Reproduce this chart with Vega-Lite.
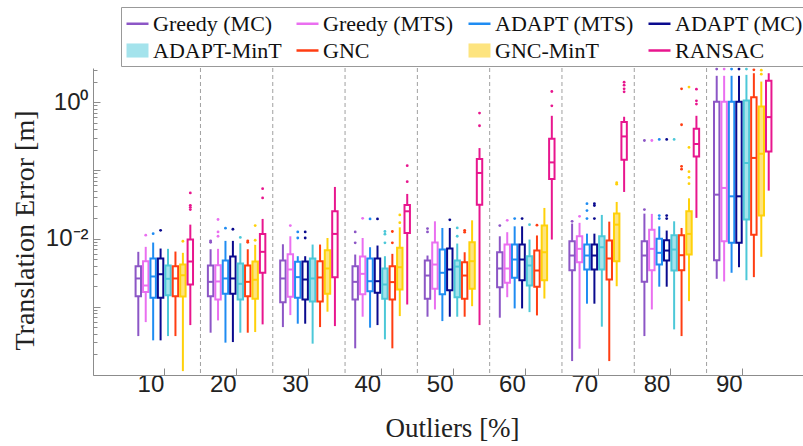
{
  "$schema": "https://vega.github.io/schema/vega-lite/v6.json",
  "width": 710,
  "height": 307,
  "autosize": {"type": "none"},
  "padding": {"left": 93, "top": 68, "right": 0, "bottom": 71},
  "background": "white",
  "config": {
    "view": {"stroke": null},
    "axis": {"domainColor": "#8c8c8c", "tickColor": "#8c8c8c", "grid": false, "labelColor": "#222222", "titleColor": "#222222", "titleFontWeight": "normal", "labelOverlap": false}
  },
  "datasets": {
    "boxes": [
      {"o":10,"m":"Greedy (MC)","lo":0.000372,"q1":0.00143,"med":0.0026,"q3":0.00393,"hi":0.00639},
      {"o":10,"m":"Greedy (MTS)","lo":0.000596,"q1":0.00164,"med":0.00205,"q3":0.00466,"hi":0.00756},
      {"o":10,"m":"ADAPT (MTS)","lo":0.000322,"q1":0.00136,"med":0.00278,"q3":0.0051,"hi":0.00874},
      {"o":10,"m":"ADAPT (MC)","lo":0.000322,"q1":0.00136,"med":0.003,"q3":0.0051,"hi":0.00714},
      {"o":10,"m":"ADAPT-MinT","lo":0.000372,"q1":0.00148,"med":0.00257,"q3":0.00403,"hi":0.00707},
      {"o":10,"m":"GNC","lo":0.000372,"q1":0.00143,"med":0.0026,"q3":0.00393,"hi":0.00645},
      {"o":10,"m":"GNC-MinT","lo":0.000114,"q1":0.00142,"med":0.0029,"q3":0.00416,"hi":0.00618},
      {"o":10,"m":"RANSAC","lo":0.000539,"q1":0.00212,"med":0.00461,"q3":0.00967,"hi":0.016},
      {"o":20,"m":"Greedy (MC)","lo":0.000417,"q1":0.00143,"med":0.00232,"q3":0.00403,"hi":0.00697},
      {"o":20,"m":"Greedy (MTS)","lo":0.000631,"q1":0.00128,"med":0.00235,"q3":0.00407,"hi":0.00707},
      {"o":20,"m":"ADAPT (MTS)","lo":0.000298,"q1":0.00155,"med":0.0026,"q3":0.00476,"hi":0.00925},
      {"o":20,"m":"ADAPT (MC)","lo":0.000304,"q1":0.00155,"med":0.0026,"q3":0.00545,"hi":0.00925},
      {"o":20,"m":"ADAPT-MinT","lo":0.000417,"q1":0.00128,"med":0.00217,"q3":0.00431,"hi":0.00853},
      {"o":20,"m":"GNC","lo":0.000417,"q1":0.00143,"med":0.00232,"q3":0.00403,"hi":0.00697},
      {"o":20,"m":"GNC-MinT","lo":0.000426,"q1":0.00131,"med":0.00249,"q3":0.00461,"hi":0.00809},
      {"o":20,"m":"RANSAC","lo":0.000552,"q1":0.00315,"med":0.00639,"q3":0.0117,"hi":0.0194},
      {"o":30,"m":"Greedy (MC)","lo":0.000504,"q1":0.00117,"med":0.0026,"q3":0.00476,"hi":0.00825},
      {"o":30,"m":"Greedy (MTS)","lo":0.000755,"q1":0.0014,"med":0.00352,"q3":0.00589,"hi":0.0108},
      {"o":30,"m":"ADAPT (MTS)","lo":0.000565,"q1":0.00136,"med":0.00272,"q3":0.00456,"hi":0.00551},
      {"o":30,"m":"ADAPT (MC)","lo":0.000565,"q1":0.00128,"med":0.00251,"q3":0.00461,"hi":0.00551},
      {"o":30,"m":"ADAPT-MinT","lo":0.000288,"q1":0.00119,"med":0.0026,"q3":0.0051,"hi":0.00817},
      {"o":30,"m":"GNC","lo":0.000504,"q1":0.00119,"med":0.00269,"q3":0.00466,"hi":0.00817},
      {"o":30,"m":"GNC-MinT","lo":0.000847,"q1":0.00155,"med":0.00364,"q3":0.00674,"hi":0.0102},
      {"o":30,"m":"RANSAC","lo":0.000521,"q1":0.00272,"med":0.0117,"q3":0.0251,"hi":0.0571},
      {"o":40,"m":"Greedy (MC)","lo":0.000246,"q1":0.00128,"med":0.00232,"q3":0.00393,"hi":0.00583},
      {"o":40,"m":"Greedy (MTS)","lo":0.000715,"q1":0.00152,"med":0.00304,"q3":0.00545,"hi":0.0102},
      {"o":40,"m":"ADAPT (MTS)","lo":0.000494,"q1":0.00169,"med":0.00237,"q3":0.0051,"hi":0.00746},
      {"o":40,"m":"ADAPT (MC)","lo":0.000539,"q1":0.00161,"med":0.00237,"q3":0.0051,"hi":0.0079},
      {"o":40,"m":"ADAPT-MinT","lo":0.000333,"q1":0.00131,"med":0.00212,"q3":0.00364,"hi":0.00551},
      {"o":40,"m":"GNC","lo":0.000246,"q1":0.00128,"med":0.0023,"q3":0.00393,"hi":0.00597},
      {"o":40,"m":"GNC-MinT","lo":0.00073,"q1":0.00179,"med":0.0038,"q3":0.00731,"hi":0.0146},
      {"o":40,"m":"RANSAC","lo":0.00108,"q1":0.0121,"med":0.0251,"q3":0.0311,"hi":0.0451},
      {"o":50,"m":"Greedy (MC)","lo":0.000715,"q1":0.00131,"med":0.00287,"q3":0.00476,"hi":0.00564},
      {"o":50,"m":"Greedy (MTS)","lo":0.000914,"q1":0.00184,"med":0.00416,"q3":0.00874,"hi":0.0179},
      {"o":50,"m":"ADAPT (MTS)","lo":0.000617,"q1":0.00152,"med":0.00315,"q3":0.0069,"hi":0.0143},
      {"o":50,"m":"ADAPT (MC)","lo":0.000715,"q1":0.00175,"med":0.00352,"q3":0.00714,"hi":0.0143},
      {"o":50,"m":"ADAPT-MinT","lo":0.000715,"q1":0.00138,"med":0.00388,"q3":0.00476,"hi":0.00845},
      {"o":50,"m":"GNC","lo":0.000715,"q1":0.00131,"med":0.00287,"q3":0.0045,"hi":0.0063},
      {"o":50,"m":"GNC-MinT","lo":0.00102,"q1":0.00184,"med":0.00466,"q3":0.00883,"hi":0.0185},
      {"o":50,"m":"RANSAC","lo":0.000539,"q1":0.0314,"med":0.0915,"q3":0.1466,"hi":0.212},
      {"o":60,"m":"Greedy (MC)","lo":0.000692,"q1":0.00194,"med":0.00364,"q3":0.0063,"hi":0.0108},
      {"o":60,"m":"Greedy (MTS)","lo":0.00138,"q1":0.00225,"med":0.00364,"q3":0.00817,"hi":0.0124},
      {"o":60,"m":"ADAPT (MTS)","lo":0.000946,"q1":0.00266,"med":0.00493,"q3":0.00817,"hi":0.0151},
      {"o":60,"m":"ADAPT (MC)","lo":0.000946,"q1":0.00245,"med":0.00493,"q3":0.00817,"hi":0.0151},
      {"o":60,"m":"ADAPT-MinT","lo":0.000835,"q1":0.00205,"med":0.00403,"q3":0.00551,"hi":0.00967},
      {"o":60,"m":"GNC","lo":0.000747,"q1":0.00197,"med":0.0034,"q3":0.00667,"hi":0.0111},
      {"o":60,"m":"GNC-MinT","lo":0.00132,"q1":0.00245,"med":0.0063,"q3":0.0155,"hi":0.0281},
      {"o":60,"m":"RANSAC","lo":0.00967,"q1":0.0747,"med":0.1307,"q3":0.29,"hi":0.63},
      {"o":70,"m":"Greedy (MC)","lo":0.00016,"q1":0.00344,"med":0.00564,"q3":0.00913,"hi":0.0166},
      {"o":70,"m":"Greedy (MTS)","lo":0.000243,"q1":0.0045,"med":0.00707,"q3":0.0108,"hi":0.017},
      {"o":70,"m":"ADAPT (MTS)","lo":0.00111,"q1":0.00352,"med":0.00564,"q3":0.00817,"hi":0.0118},
      {"o":70,"m":"ADAPT (MC)","lo":0.00111,"q1":0.00352,"med":0.00564,"q3":0.00817,"hi":0.0118},
      {"o":70,"m":"ADAPT-MinT","lo":0.000511,"q1":0.00352,"med":0.00746,"q3":0.0108,"hi":0.0222},
      {"o":70,"m":"GNC","lo":0.00016,"q1":0.00251,"med":0.0051,"q3":0.00935,"hi":0.0177},
      {"o":70,"m":"GNC-MinT","lo":0.002,"q1":0.00466,"med":0.016,"q3":0.0232,"hi":0.0344},
      {"o":70,"m":"RANSAC","lo":0.0482,"q1":0.1432,"med":0.314,"q3":0.51,"hi":0.61},
      {"o":80,"m":"Greedy (MC)","lo":0.000372,"q1":0.00232,"med":0.00564,"q3":0.00913,"hi":0.0232},
      {"o":80,"m":"Greedy (MTS)","lo":0.000914,"q1":0.00344,"med":0.00707,"q3":0.0135,"hi":0.023},
      {"o":80,"m":"ADAPT (MTS)","lo":0.00197,"q1":0.00416,"med":0.00618,"q3":0.0099,"hi":0.0151},
      {"o":80,"m":"ADAPT (MC)","lo":0.00197,"q1":0.00476,"med":0.00667,"q3":0.00945,"hi":0.0131},
      {"o":80,"m":"ADAPT-MinT","lo":0.000466,"q1":0.0034,"med":0.0069,"q3":0.0112,"hi":0.0179},
      {"o":80,"m":"GNC","lo":0.000372,"q1":0.00344,"med":0.0057,"q3":0.0112,"hi":0.0143},
      {"o":80,"m":"GNC-MinT","lo":0.00121,"q1":0.00583,"med":0.0117,"q3":0.0251,"hi":0.0389},
      {"o":80,"m":"RANSAC","lo":0.0201,"q1":0.16,"med":0.243,"q3":0.407,"hi":0.63},
      {"o":90,"m":"Greedy (MC)","lo":0.00257,"q1":0.00481,"med":0.044,"q3":1.01,"hi":2.43},
      {"o":90,"m":"Greedy (MTS)","lo":0.00235,"q1":0.00913,"med":0.0552,"q3":1.01,"hi":2.43},
      {"o":90,"m":"ADAPT (MTS)","lo":0.00315,"q1":0.00865,"med":0.0416,"q3":1.01,"hi":2.43},
      {"o":90,"m":"ADAPT (MC)","lo":0.0038,"q1":0.00865,"med":0.0416,"q3":1.01,"hi":2.43},
      {"o":90,"m":"ADAPT-MinT","lo":0.00245,"q1":0.019,"med":0.128,"q3":1.055,"hi":2.51},
      {"o":90,"m":"GNC","lo":0.00272,"q1":0.0114,"med":0.152,"q3":1.18,"hi":2.65},
      {"o":90,"m":"GNC-MinT","lo":0.0054,"q1":0.0217,"med":0.175,"q3":0.862,"hi":2.0},
      {"o":90,"m":"RANSAC","lo":0.0504,"q1":0.189,"med":0.603,"q3":2.05,"hi":2.65}
    ],
    "outliers": [
      {"o":10,"m":"Greedy (MTS)","v":0.0112},
      {"o":10,"m":"ADAPT (MTS)","v":0.0118},
      {"o":10,"m":"ADAPT (MC)","v":0.0132},
      {"o":10,"m":"GNC-MinT","v":0.00913},
      {"o":10,"m":"RANSAC","v":0.0466},
      {"o":10,"m":"RANSAC","v":0.0307},
      {"o":10,"m":"RANSAC","v":0.0287},
      {"o":10,"m":"RANSAC","v":0.0266},
      {"o":20,"m":"Greedy (MC)","v":0.00925},
      {"o":20,"m":"Greedy (MC)","v":0.00883},
      {"o":20,"m":"Greedy (MTS)","v":0.019},
      {"o":20,"m":"Greedy (MTS)","v":0.0125},
      {"o":20,"m":"Greedy (MTS)","v":0.0108},
      {"o":20,"m":"ADAPT (MTS)","v":0.0142},
      {"o":20,"m":"ADAPT (MC)","v":0.0137},
      {"o":20,"m":"ADAPT-MinT","v":0.0104},
      {"o":20,"m":"GNC","v":0.00925},
      {"o":20,"m":"GNC","v":0.00883},
      {"o":20,"m":"GNC-MinT","v":0.0155},
      {"o":20,"m":"GNC-MinT","v":0.00945},
      {"o":20,"m":"RANSAC","v":0.0539},
      {"o":20,"m":"RANSAC","v":0.0394},
      {"o":30,"m":"Greedy (MTS)","v":0.0155},
      {"o":30,"m":"ADAPT (MTS)","v":0.0125},
      {"o":30,"m":"ADAPT (MTS)","v":0.0102},
      {"o":30,"m":"ADAPT (MC)","v":0.0125},
      {"o":30,"m":"ADAPT (MC)","v":0.0102},
      {"o":40,"m":"Greedy (MC)","v":0.0125},
      {"o":40,"m":"Greedy (MC)","v":0.00865},
      {"o":40,"m":"Greedy (MTS)","v":0.0198},
      {"o":40,"m":"ADAPT (MTS)","v":0.0194},
      {"o":40,"m":"ADAPT (MC)","v":0.0194},
      {"o":40,"m":"ADAPT-MinT","v":0.0127},
      {"o":40,"m":"ADAPT-MinT","v":0.0116},
      {"o":40,"m":"ADAPT-MinT","v":0.00865},
      {"o":40,"m":"GNC","v":0.0127},
      {"o":40,"m":"GNC","v":0.00865},
      {"o":40,"m":"GNC-MinT","v":0.0222},
      {"o":40,"m":"GNC-MinT","v":0.0171},
      {"o":40,"m":"RANSAC","v":0.117},
      {"o":40,"m":"RANSAC","v":0.0682},
      {"o":50,"m":"Greedy (MC)","v":0.014},
      {"o":50,"m":"Greedy (MC)","v":0.0125},
      {"o":50,"m":"ADAPT (MC)","v":0.0188},
      {"o":50,"m":"ADAPT-MinT","v":0.0143},
      {"o":50,"m":"ADAPT-MinT","v":0.0108},
      {"o":50,"m":"GNC","v":0.0132},
      {"o":50,"m":"GNC","v":0.0124},
      {"o":50,"m":"RANSAC","v":0.69},
      {"o":50,"m":"RANSAC","v":0.45},
      {"o":60,"m":"Greedy (MC)","v":0.0155},
      {"o":60,"m":"Greedy (MTS)","v":0.0185},
      {"o":60,"m":"ADAPT (MTS)","v":0.0196},
      {"o":60,"m":"ADAPT (MC)","v":0.0196},
      {"o":60,"m":"ADAPT-MinT","v":0.016},
      {"o":60,"m":"GNC","v":0.0157},
      {"o":60,"m":"RANSAC","v":1.43},
      {"o":60,"m":"RANSAC","v":0.883},
      {"o":70,"m":"Greedy (MC)","v":0.0179},
      {"o":70,"m":"Greedy (MTS)","v":0.0212},
      {"o":70,"m":"ADAPT (MTS)","v":0.0325},
      {"o":70,"m":"ADAPT (MTS)","v":0.0257},
      {"o":70,"m":"ADAPT (MTS)","v":0.0196},
      {"o":70,"m":"ADAPT (MC)","v":0.0325},
      {"o":70,"m":"ADAPT (MC)","v":0.0304},
      {"o":70,"m":"ADAPT (MC)","v":0.0196},
      {"o":70,"m":"GNC-MinT","v":0.0627},
      {"o":70,"m":"GNC-MinT","v":0.066},
      {"o":70,"m":"RANSAC","v":1.96},
      {"o":70,"m":"RANSAC","v":1.77},
      {"o":70,"m":"RANSAC","v":1.565},
      {"o":70,"m":"RANSAC","v":1.415},
      {"o":80,"m":"Greedy (MC)","v":0.274},
      {"o":80,"m":"Greedy (MC)","v":0.0266},
      {"o":80,"m":"Greedy (MTS)","v":0.274},
      {"o":80,"m":"ADAPT (MTS)","v":0.284},
      {"o":80,"m":"ADAPT (MTS)","v":0.0217},
      {"o":80,"m":"ADAPT (MTS)","v":0.0196},
      {"o":80,"m":"ADAPT (MC)","v":0.284},
      {"o":80,"m":"ADAPT (MC)","v":0.0217},
      {"o":80,"m":"ADAPT (MC)","v":0.0196},
      {"o":80,"m":"ADAPT-MinT","v":0.284},
      {"o":80,"m":"GNC","v":1.565},
      {"o":80,"m":"GNC","v":0.466},
      {"o":80,"m":"GNC","v":0.1143},
      {"o":80,"m":"GNC","v":0.104},
      {"o":80,"m":"GNC-MinT","v":1.66},
      {"o":80,"m":"GNC-MinT","v":0.217},
      {"o":80,"m":"GNC-MinT","v":0.0955},
      {"o":80,"m":"GNC-MinT","v":0.0788},
      {"o":80,"m":"GNC-MinT","v":0.0638},
      {"o":80,"m":"RANSAC","v":1.55},
      {"o":80,"m":"RANSAC","v":1.045},
      {"o":80,"m":"RANSAC","v":0.935},
      {"o":90,"m":"Greedy (MC)","v":3.05},
      {"o":90,"m":"Greedy (MTS)","v":3.05},
      {"o":90,"m":"ADAPT (MTS)","v":3.05},
      {"o":90,"m":"ADAPT (MC)","v":3.05},
      {"o":90,"m":"ADAPT-MinT","v":3.05},
      {"o":90,"m":"GNC","v":2.97},
      {"o":90,"m":"GNC-MinT","v":2.94},
      {"o":90,"m":"GNC-MinT","v":2.57}
    ],
    "seps": [{"o":20},{"o":30},{"o":40},{"o":50},{"o":60},{"o":70},{"o":80},{"o":90}]
  },
  "layer": [
    {
      "data": {"name": "seps"},
      "mark": {"type": "rule", "strokeDash": [4, 3], "color": "#a0a0a0", "strokeWidth": 1},
      "encoding": {
        "x": {"field": "o", "type": "ordinal", "bandPosition": 0,
              "scale": {"type": "band", "domain": [10,20,30,40,50,60,70,80,90], "paddingInner": 0, "paddingOuter": 0.41, "align": 0.593}}
      }
    },
    {
      "data": {"name": "boxes"},
      "mark": {"type": "rule", "strokeWidth": 2},
      "encoding": {
        "x": {"field": "o", "type": "ordinal",
              "scale": {"type": "band", "domain": [10,20,30,40,50,60,70,80,90], "paddingInner": 0, "paddingOuter": 0.41, "align": 0.593},
              "axis": {"title": "Outliers [%]", "titleFont": "Liberation Serif", "titleFontSize": 27, "titleX": 359, "titleY": 61, "titleBaseline": "alphabetic", "titleAlign": "center",
                       "labelAngle": 0, "labelFont": "Liberation Sans", "labelFontSize": 24, "labelPadding": 16, "tickSize": -7, "tickWidth": 1}},
        "xOffset": {"field": "m", "type": "nominal",
              "scale": {"domain": ["Greedy (MC)","Greedy (MTS)","ADAPT (MTS)","ADAPT (MC)","ADAPT-MinT","GNC","GNC-MinT","RANSAC"], "paddingInner": 0.27, "paddingOuter": 1.085}},
        "y": {"field": "lo", "type": "quantitative",
              "scale": {"type": "log", "domain": [0.0001, 3.1623], "nice": false},
              "axis": {"title": "Translation Error [m]", "titleFont": "Liberation Serif", "titleFontSize": 28, "titleX": -68, "titleY": 162, "titleAngle": -90, "titleBaseline": "middle", "titleAlign": "center",
                       "labelFont": "Liberation Sans", "labelFontSize": 24, "labelPadding": 12,
                       "values": [0.0001,0.0002,0.0003,0.0004,0.0005,0.0006,0.0007,0.0008,0.0009,0.001,0.002,0.003,0.004,0.005,0.006,0.007,0.008,0.009,0.01,0.02,0.03,0.04,0.05,0.06,0.07,0.08,0.09,0.1,0.2,0.3,0.4,0.5,0.6,0.7,0.8,0.9,1,2,3],
                       "labelExpr": "datum.value == 0.01 ? '10⁻²' : (datum.value == 1 ? '10⁰' : '')",
                       "tickSize": {"condition": {"test": "datum.value == 0.0001 || datum.value == 0.001 || datum.value == 0.01 || datum.value == 0.1 || datum.value == 1", "value": -7}, "value": -4},
                       "tickWidth": 1}},
        "y2": {"field": "hi"},
        "stroke": {"field": "m", "type": "nominal",
              "scale": {"domain": ["Greedy (MC)","Greedy (MTS)","ADAPT (MTS)","ADAPT (MC)","ADAPT-MinT","GNC","GNC-MinT","RANSAC"],
                        "range": ["#8c56c6","#ea6ff0","#1f8cf2","#0a0a8e","#4cc8d8","#ff3d12","#ffd10a","#e8168e"]},
              "legend": {"title": null, "orient": "none", "legendX": 28, "legendY": -61, "direction": "horizontal", "columns": 4, "columnPadding": 9, "rowPadding": 3,
                         "padding": 4, "strokeColor": "#999999", "fillColor": "white",
                         "labelFont": "Liberation Serif", "labelFontSize": 22, "labelColor": "#111111", "labelOffset": 3, "labelLimit": 300,
                         "symbolSize": 484, "symbolType": "stroke", "symbolStrokeWidth": 2.5,
                         "encode": {"symbols": {"update": {
                           "shape": {"signal": "(datum.value === 'ADAPT-MinT' || datum.value === 'GNC-MinT') ? 'M-1,-0.64L1,-0.64L1,0.64L-1,0.64Z' : 'stroke'"},
                           "fill": {"signal": "datum.value === 'ADAPT-MinT' ? '#a4e3ec' : (datum.value === 'GNC-MinT' ? '#fde47f' : 'transparent')"},
                           "strokeOpacity": {"signal": "(datum.value === 'ADAPT-MinT' || datum.value === 'GNC-MinT') ? 0 : 1"},
                           "fillOpacity": {"value": 1},
                           "opacity": {"value": 1}
                         }}}}}
      }
    },
    {
      "data": {"name": "boxes"},
      "mark": {"type": "bar", "strokeWidth": 2},
      "encoding": {
        "x": {"field": "o", "type": "ordinal"},
        "xOffset": {"field": "m", "type": "nominal"},
        "y": {"field": "q1", "type": "quantitative"},
        "y2": {"field": "q3"},
        "stroke": {"field": "m", "type": "nominal"},
        "fill": {"field": "m", "type": "nominal", "legend": null,
              "scale": {"domain": ["Greedy (MC)","Greedy (MTS)","ADAPT (MTS)","ADAPT (MC)","ADAPT-MinT","GNC","GNC-MinT","RANSAC"],
                        "range": ["#ffffff","#ffffff","#ffffff","#ffffff","#a4e3ec","#ffffff","#fde47f","#ffffff"]}}
      }
    },
    {
      "data": {"name": "boxes"},
      "mark": {"type": "tick", "thickness": 2, "size": 6, "opacity": 1},
      "encoding": {
        "x": {"field": "o", "type": "ordinal"},
        "xOffset": {"field": "m", "type": "nominal"},
        "y": {"field": "med", "type": "quantitative"},
        "color": {"field": "m", "type": "nominal", "legend": null,
              "scale": {"domain": ["Greedy (MC)","Greedy (MTS)","ADAPT (MTS)","ADAPT (MC)","ADAPT-MinT","GNC","GNC-MinT","RANSAC"],
                        "range": ["#8c56c6","#ea6ff0","#1f8cf2","#0a0a8e","#4cc8d8","#ff3d12","#ffd10a","#e8168e"]}}
      }
    },
    {
      "data": {"name": "outliers"},
      "mark": {"type": "circle", "size": 8, "opacity": 1},
      "encoding": {
        "x": {"field": "o", "type": "ordinal"},
        "xOffset": {"field": "m", "type": "nominal"},
        "y": {"field": "v", "type": "quantitative"},
        "color": {"field": "m", "type": "nominal", "legend": null}
      }
    }
  ]
}
